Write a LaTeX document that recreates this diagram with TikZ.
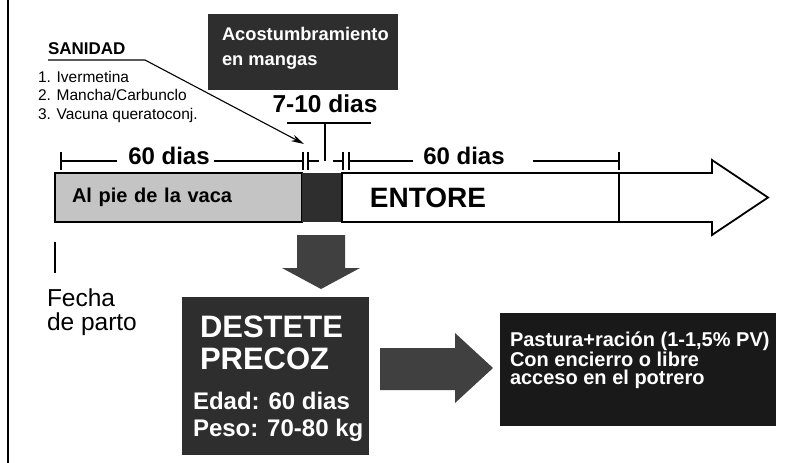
\documentclass[tikz,border=0pt]{standalone}
\usepackage{fontspec}
\setmainfont{Liberation Sans}
\usetikzlibrary{arrows.meta}

\definecolor{boxgray}{HTML}{2E2E2E}
\definecolor{arrowgray}{HTML}{404040}
\definecolor{piegray}{HTML}{C4C4C4}

\begin{document}
\begin{tikzpicture}[x=1pt, y=-1pt,
            every node/.style = {inner sep=0pt, outer sep=0pt},
            darkbox/.style = {fill=boxgray, anchor=north west},
            wtext/.style = {text=white, font=\bfseries\fontsize{#1}{#1}\selectfont},
            btext/.style = {font=\bfseries\fontsize{#1}{#1}\selectfont},
            dim/.style = {line width=1.4pt},
            blockarrow/.style = {fill=arrowgray}]
            \useasboundingbox (0,0) rectangle (801,463);
            \draw[line width=2.2pt] (8,0) -- (8,463);
            % caja superior
            \node[darkbox, minimum width=190, minimum height=76] (acost) at (208,14) {};
            \node[anchor=north west, align=left, text=white, font=\bfseries\fontsize{18.3}{25}\selectfont]
                  (acostT) at (222,27) {Acostumbramiento\\en mangas};
            % sanidad
            \node[btext=17, anchor=base west] (sanidad) at (48,54) {SANIDAD};
            \node[anchor=north west, align=left, font=\fontsize{15.5}{18.5}\selectfont] (lista) at (38,71)
                  {1. Ivermetina\\2. Mancha/Carbunclo\\3. Vacuna queratoconj.};
            \coordinate (sanE) at (145,60);
            \coordinate (sanT) at (304,144);
            \draw[line width=1.1pt, -{Stealth[length=13pt,width=7pt]}] (48,60) -- (sanE) -- (sanT);
            % 7-10 dias
            \node[btext=24.5] (dias) at (325,104) {7-10 dias};
            \coordinate (diasS) at (325,161);
            \draw[dim] (287,123) -- (371,123);
            \draw[dim] (325,123) -- (diasS);
            % cotas
            \node[btext=24] (cotaA) at (169,156) {60 dias};
            \node[btext=24] (cotaB) at (464,156) {60 dias};
            \draw[dim] (61,161) -- (117,161);
            \draw[dim] (214,161) -- (303,161);
            \draw[dim] (308,161) -- (319,161);
            \draw[dim] (333,161) -- (343,161);
            \draw[dim] (349,161) -- (413,161);
            \draw[dim] (533,161) -- (619,161);
            \foreach \x in {61,303,308,343,349,619}
                \draw[dim] (\x,152) -- (\x,170);
            % barra
            \node[anchor=north west, draw, line width=1.5pt, fill=piegray, minimum width=247, minimum height=49,
                  text width=213, inner xsep=17, align=left, btext=20] (pie) at (55,173) {Al pie de la vaca};
            \node[anchor=north west, fill=boxgray, minimum width=40, minimum height=49] (manga) at (302,173) {};
            \draw[line width=1.8pt, fill=white] (manga.north east) -- (712,173) -- (712,160) -- (768,197.5)
                  -- (712,235) -- (712,222) -- (manga.south east) -- cycle;
            \draw[line width=1.5pt] (619,173) -- (619,222);
            \node[btext=28] (entore) at (428,198) {ENTORE};
            % fecha de parto
            \draw[line width=2pt] (55,242) -- (55,273);
            \node[anchor=north west, align=left, font=\fontsize{24.5}{24}\selectfont] (fecha) at (47,289) {Fecha\\de parto};
            % destete
            \fill[blockarrow] (297,235) -- (345,235) -- (345,268) -- (360,268) -- (321,289)
                  -- (282,268) -- (297,268) -- cycle;
            \node[darkbox, minimum width=187, minimum height=158] (destete) at (182,297) {};
            \node[wtext=31, anchor=base west] (precoz) at (200,337) {DESTETE};
            \node[wtext=31, anchor=base west] (precozB) at (200,369) {PRECOZ};
            \node[wtext=24, anchor=base west] (edad) at (193,409) {Edad: 60 dias};
            \node[wtext=24, anchor=base west] (peso) at (193,436) {Peso: 70-80 kg};
            \fill[blockarrow] (380,348) -- (455,348) -- (455,333) -- (493,368) -- (455,403)
                  -- (455,390) -- (380,390) -- cycle;
            % pastura
            \node[darkbox, fill=black!90, minimum width=276, minimum height=113] (pastura) at (500,313) {};
            \node[anchor=north west, align=left, text=white, font=\bfseries\fontsize{20}{18.5}\selectfont] (pasturaT)
                  at (510,332) {Pastura+ración (1-1,5\% PV)\\Con encierro o libre\\acceso en el potrero};
        \end{tikzpicture}
\end{document}
